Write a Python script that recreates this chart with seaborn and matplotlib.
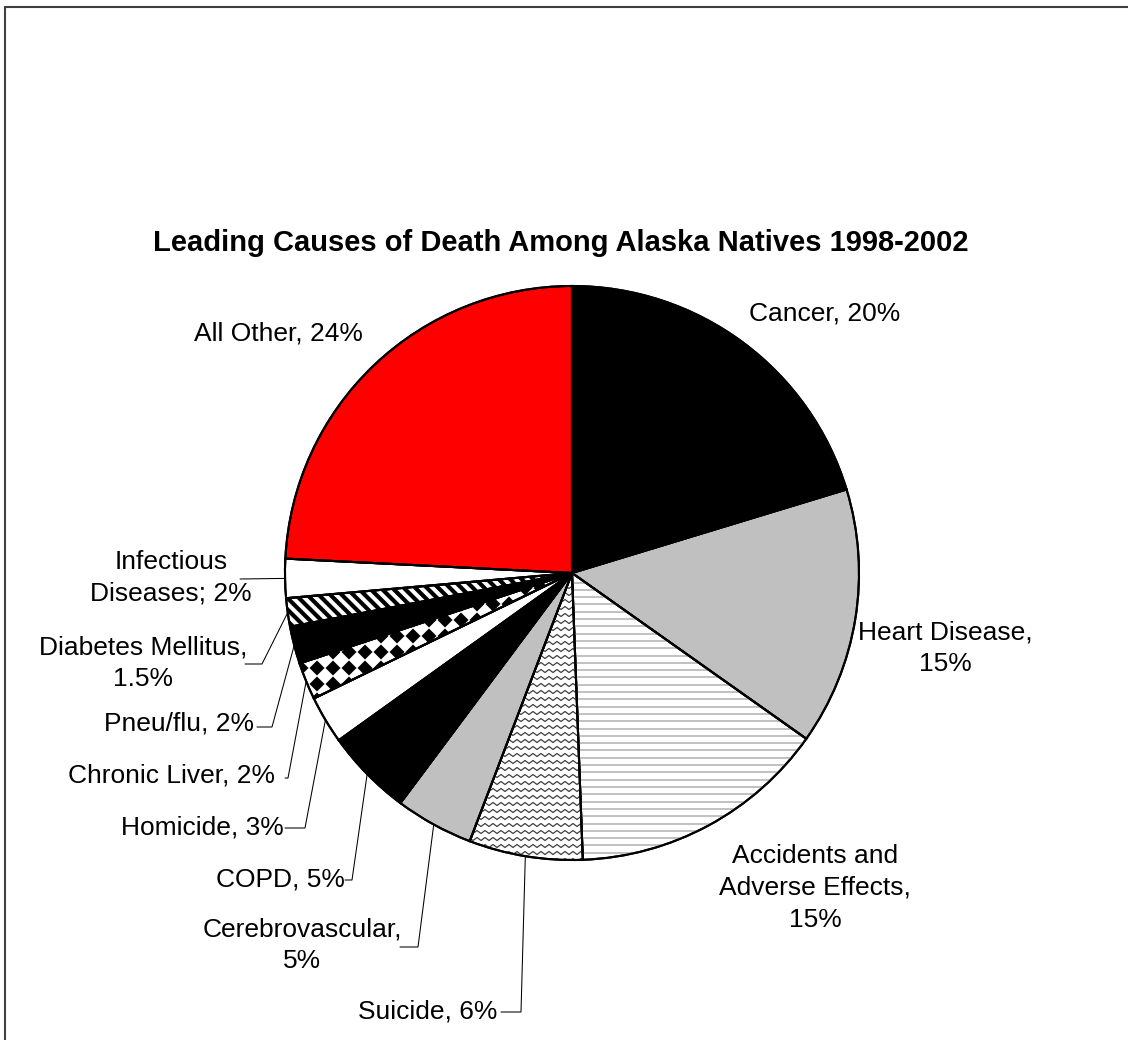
import matplotlib
matplotlib.use("Agg")
import matplotlib.pyplot as plt
import seaborn as sns
import numpy as np
from matplotlib.patches import Wedge
from matplotlib.collections import LineCollection, PolyCollection
from matplotlib.lines import Line2D

# Data (clockwise from 12 o'clock)
causes = ["Cancer", "Heart Disease", "Accidents and Adverse Effects", "Suicide",
          "Cerebrovascular", "COPD", "Homicide", "Chronic Liver", "Pneu/flu",
          "Diabetes Mellitus", "Infectious Diseases", "All Other"]
shares = [20.3, 14.5, 14.6, 6.4, 4.4, 4.9, 2.7, 2.1, 2.1, 1.6, 2.2, 24.2]
labels = ["Cancer, 20%", "Heart Disease,\n15%", "Accidents and\nAdverse Effects,\n15%",
          "Suicide, 6%", "Cerebrovascular,\n5%", "COPD, 5%", "Homicide, 3%",
          "Chronic Liver, 2%", "Pneu/flu, 2%", "Diabetes Mellitus,\n1.5%",
          "Infectious\nDiseases; 2%", "All Other, 24%"]
fills = ["black", "#c0c0c0", "white", "white", "#c0c0c0", "black", "white",
         "white", "black", "white", "white", "#ff0000"]
title = "Leading Causes of Death Among Alaska Natives 1998-2002"

sns.set_theme(style="white")
plt.rcParams["font.family"] = ["Liberation Sans", "DejaVu Sans"]

W, H = 1128, 1040
fig = plt.figure(figsize=(W / 100, H / 100), dpi=100)
ax = fig.add_axes([0, 0, 1, 1])

def Y(py):
    return H - py

cx, cy, R = 572, Y(573), 287

wedges, _ = ax.pie(shares, colors=fills, startangle=90, counterclock=False,
                   center=(cx, cy), radius=R, frame=True,
                   wedgeprops=dict(edgecolor="black", linewidth=1.5))
ax.set_xlim(0, W)
ax.set_ylim(0, H)
ax.set_aspect("equal")
ax.axis("off")

# fill patterns clipped to wedges
# Accidents: thin gray horizontal lines
w = wedges[2]
segs = [[(cx - R, y), (cx + R, y)] for y in np.arange(cy - R, cy + R, 7.3)]
lc = LineCollection(segs, colors="#b0b0b0", linewidths=1.1, zorder=2)
ax.add_collection(lc)
lc.set_clip_path(w)

# Suicide: zigzag lines
w = wedges[3]
segs = []
xs = np.arange(cx - R, cx + R, 4.0)
for y0 in np.arange(cy - R, cy + R, 7.0):
    ys = y0 + 1.5 * np.where(np.arange(len(xs)) % 2 == 0, 1, -1)
    segs.append(np.column_stack([xs, ys]))
lc = LineCollection(segs, colors="#404040", linewidths=0.9, zorder=2)
ax.add_collection(lc)
lc.set_clip_path(w)

# Chronic liver: solid diamond checker
w = wedges[7]
polys = []
h = 7.5
for y in np.arange(cy - R, cy + R, 16.0):
    for x in np.arange(cx - R, cx + R, 16.0):
        polys.append([(x - h, y), (x, y + h), (x + h, y), (x, y - h)])
pc = PolyCollection(polys, facecolors="black", edgecolors="none", zorder=2)
ax.add_collection(pc)
pc.set_clip_path(w)

# Diabetes: wide diagonal stripes
w = wedges[9]
segs = [[(cx + d - 1.5 * R, cy + 1.5 * R), (cx + d + 1.5 * R, cy - 1.5 * R)]
        for d in np.arange(-2 * R, 2 * R, 11.5)]
lc = LineCollection(segs, colors="black", linewidths=3.0, zorder=2)
ax.add_collection(lc)
lc.set_clip_path(w)

# outlines on top
for w in wedges:
    ax.add_patch(Wedge(w.center, w.r, w.theta1, w.theta2, fill=False,
                       edgecolor="black", linewidth=1.5, zorder=3))

# labels (pixel positions) and leader lines (start x, elbow x, y)
label_xy = [(825, 313), (945, 648), (815, 888), (428, 1012), (302, 945),
            (280, 880), (202, 827), (172, 776), (179, 724), (143, 663),
            (171, 578), (278, 333)]
leaders = [None, None, None, (501, 521, 1012), (400, 418, 947), (345, 352, 880),
           (285, 305, 828), (285, 288, 778), (257, 272, 727), (245, 262, 664),
           (240, None, 579), None]

fs = 19
for w, lab, (tx, ty), ld in zip(wedges, labels, label_xy, leaders):
    ax.text(tx, Y(ty), lab, ha="center", va="center", fontsize=fs,
            color="black", linespacing=1.42, zorder=4)
    if ld is None:
        continue
    mid = np.deg2rad((w.theta1 + w.theta2) / 2)
    axx, ayy = cx + R * np.cos(mid), cy + R * np.sin(mid)
    sx, ex, ly = ld
    if ex is None:
        pts = [(sx, Y(ly)), (axx, ayy)]
    else:
        pts = [(sx, Y(ly)), (ex, Y(ly)), (axx, ayy)]
    ax.plot([p[0] for p in pts], [p[1] for p in pts], color="black",
            linewidth=0.75, zorder=1, solid_joinstyle="miter")

ax.text(561, Y(243), title, ha="center", va="center", fontsize=21,
        fontweight="bold", color="black")

# chart border (top and left edges visible)
fig.add_artist(Line2D([5 / W, 5 / W], [0, 1 - 7 / H], transform=fig.transFigure,
                      color="#404040", linewidth=1.5))
fig.add_artist(Line2D([5 / W, 1], [1 - 7 / H, 1 - 7 / H], transform=fig.transFigure,
                      color="#404040", linewidth=1.5))

fig.savefig("out.png", dpi=100, facecolor="white")
